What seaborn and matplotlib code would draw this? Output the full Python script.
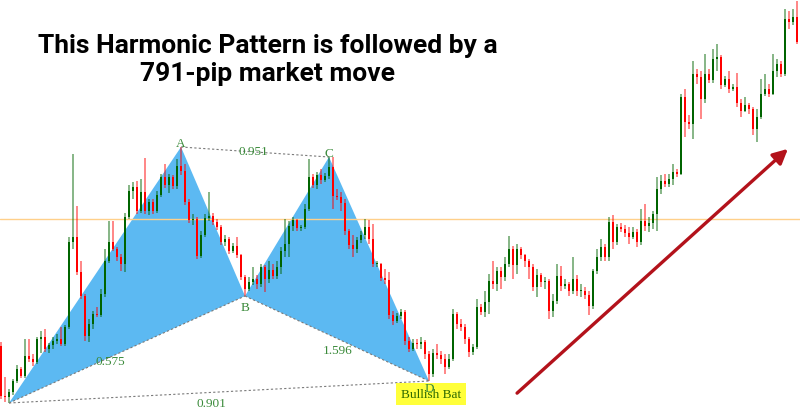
"""Bullish Bat harmonic pattern on a candlestick chart, followed by the breakout move."""

import numpy as np
import pandas as pd
import seaborn as sns
import matplotlib.pyplot as plt

# candle data (price in points, one candle per bar, open = previous close)
first_open = 67
close = [17, 16, 21, 32, 44, 37, 57, 54, 51, 74, 76, 64, 68, 72, 74, 69, 86, 171, 176, 141,
         117, 77, 89, 99, 98, 119, 152, 171, 164, 156, 149, 196, 222, 226, 202, 221, 202, 211, 202, 218,
         236, 228, 236, 227, 247, 242, 211, 193, 194, 157, 178, 195, 197, 191, 186, 171, 174, 162, 167, 158,
         136, 124, 131, 134, 129, 146, 134, 143, 137, 146, 162, 169, 187, 193, 185, 186, 204, 236, 228, 238,
         233, 237, 246, 217, 216, 210, 182, 168, 164, 173, 178, 186, 174, 149, 149, 135, 133, 98, 92, 97,
         101, 72, 64, 70, 69, 71, 59, 39, 60, 58, 54, 46, 54, 99, 89, 86, 74, 61, 66, 106,
         101, 111, 132, 129, 142, 136, 149, 164, 148, 164, 158, 152, 146, 126, 138, 131, 132, 102, 112, 137,
         127, 129, 122, 134, 122, 122, 118, 107, 142, 156, 166, 156, 191, 171, 186, 184, 180, 176, 181, 171,
         192, 187, 190, 199, 224, 232, 229, 234, 241, 239, 316, 291, 289, 339, 336, 314, 339, 333, 354, 356,
         328, 334, 324, 326, 310, 302, 308, 304, 284, 296, 319, 324, 319, 342, 349, 339, 394, 391, 396, 371]
high = [71, 36, 24, 34, 48, 46, 74, 74, 59, 76, 82, 84, 70, 76, 79, 86, 88, 176, 259, 207,
        152, 119, 94, 102, 106, 124, 164, 192, 192, 166, 159, 200, 228, 231, 232, 234, 255, 214, 214, 222,
        239, 249, 239, 238, 254, 266, 249, 214, 199, 196, 182, 199, 221, 200, 194, 188, 178, 176, 170, 176,
        159, 138, 136, 146, 138, 149, 148, 152, 149, 152, 166, 194, 192, 196, 194, 188, 209, 254, 239, 241,
        244, 240, 256, 256, 224, 221, 214, 184, 178, 176, 182, 194, 193, 189, 152, 150, 144, 141, 102, 100,
        104, 103, 76, 74, 74, 76, 73, 62, 64, 69, 62, 59, 59, 104, 101, 94, 89, 76, 69, 114,
        109, 122, 139, 152, 146, 146, 156, 177, 167, 169, 166, 159, 154, 149, 144, 140, 136, 134, 119, 149,
        147, 134, 131, 156, 138, 129, 126, 122, 144, 164, 174, 169, 196, 198, 189, 190, 188, 186, 186, 184,
        204, 209, 196, 202, 236, 238, 239, 239, 249, 244, 319, 324, 298, 352, 344, 342, 359, 344, 364, 369,
        358, 337, 342, 329, 340, 314, 316, 310, 306, 304, 334, 339, 329, 359, 354, 352, 404, 402, 404, 412]
low = [14, 11, 10, 18, 30, 35, 35, 51, 47, 49, 60, 61, 60, 64, 69, 67, 67, 84, 164, 138,
       114, 72, 71, 84, 96, 96, 116, 150, 162, 152, 142, 141, 194, 214, 199, 200, 199, 198, 199, 200,
       216, 225, 220, 224, 224, 238, 208, 190, 188, 154, 155, 176, 192, 188, 183, 168, 167, 159, 160, 155,
       133, 117, 122, 128, 124, 126, 121, 130, 134, 134, 139, 156, 156, 182, 182, 182, 184, 202, 225, 224,
       229, 231, 234, 204, 213, 202, 178, 164, 156, 160, 170, 174, 169, 146, 146, 132, 129, 94, 88, 90,
       94, 68, 61, 62, 64, 64, 54, 32, 36, 54, 49, 39, 44, 52, 84, 82, 69, 56, 58, 64,
       98, 96, 99, 124, 122, 124, 132, 146, 134, 139, 154, 146, 134, 122, 116, 126, 124, 94, 96, 109,
       122, 124, 117, 119, 117, 116, 114, 98, 104, 139, 152, 152, 152, 164, 168, 181, 176, 169, 174, 166,
       168, 182, 181, 184, 182, 219, 226, 226, 228, 236, 238, 276, 284, 274, 329, 294, 310, 330, 330, 342,
       324, 326, 320, 322, 306, 296, 301, 299, 278, 271, 294, 317, 316, 318, 336, 336, 337, 384, 388, 369]

# harmonic pattern pivots (candle index, which extreme)
pivot_names = ["X", "A", "B", "C", "D"]
pivot_index = [2, 45, 61, 82, 107]
pivot_side = ["low", "high", "low", "high", "low"]
ratio_legs = [("A", "C", "0.951"), ("X", "B", "0.575"), ("B", "D", "1.596"), ("X", "D", "0.901")]
pattern_name = "Bullish Bat"
level_price = 194
move_from = (128.5, 18)
move_to = (197.25, 266)
title = "This Harmonic Pattern is followed by a\n791-pip market move"

UP, DOWN = "#006400", "#ff0000"
FILL = "#5cb9f2"
TXT = "#3a8a3a"

sns.set_theme(style="white")
plt.rcParams["font.family"] = ["Liberation Serif", "DejaVu Serif"]

dfrm = pd.DataFrame({"close": close, "high": high, "low": low})
dfrm["open"] = dfrm["close"].shift(1).fillna(first_open)
dfrm["up"] = dfrm["close"] >= dfrm["open"]

fig = plt.figure(figsize=(8, 4.14), dpi=100)
ax = fig.add_axes([0, 0, 1, 1])
ax.set_xlim(-0.25, len(dfrm) - 0.25)
ax.set_ylim(0, 414)
ax.set_axis_off()

piv = {}
for name, idx, side in zip(pivot_names, pivot_index, pivot_side):
    piv[name] = (idx, dfrm.loc[idx, side])

# pattern triangles
for tri in (("X", "A", "B"), ("B", "C", "D")):
    ax.fill([piv[p][0] for p in tri], [piv[p][1] for p in tri], color=FILL, lw=0, zorder=1)

ax.axhline(level_price, color="#ffd08a", lw=1, zorder=2)

# candles
for i, row in dfrm.iterrows():
    col = UP if row["up"] else DOWN
    ax.vlines(i, row["low"], row["high"], color=col, lw=1.1, alpha=0.6, zorder=3)
    bot = min(row["open"], row["close"])
    hgt = max(abs(row["close"] - row["open"]), 1.5)
    ax.bar(i, hgt, bottom=bot, width=0.72, color=col, lw=0, zorder=4)

# dashed legs and ratios
offsets = {"0.951": (-2, 1), "0.575": (-17, -12), "1.596": (1, -12), "0.901": (-8, -11)}
for p1, p2, txt in ratio_legs:
    xs = [piv[p1][0], piv[p2][0]]
    ys = [piv[p1][1], piv[p2][1]]
    ax.plot(xs, ys, ls=(0, (2, 2)), color="#7a7a7a", lw=0.8, zorder=5)
    ax.annotate(txt, (np.mean(xs), np.mean(ys)), xytext=offsets[txt], textcoords="offset pixels",
                ha="center", va="center", fontsize=9.5, color=TXT, zorder=6)

letter_off = {"A": 4, "B": -11, "C": 4, "D": -7}
for name in ["A", "B", "C", "D"]:
    ax.annotate(name, piv[name], xytext=(0, letter_off[name]), textcoords="offset pixels",
                ha="center", va="center", fontsize=9.5, color=TXT, zorder=8)

ax.annotate(pattern_name, piv["D"], xytext=(2, -13), textcoords="offset pixels",
            ha="center", va="center", fontsize=9.5, color="#2f6b00", zorder=7,
            bbox=dict(boxstyle="square,pad=0.35", fc="#ffff3a", ec="none"))

ax.annotate("", xy=move_to, xytext=move_from, zorder=6,
            arrowprops=dict(arrowstyle="-|>", color="#b3121b", lw=2.4, mutation_scale=22))

fig.text(0.335, 0.855, title, ha="center", va="center", fontsize=19, fontweight="bold",
         linespacing=1.25, family=["Roboto", "DejaVu Sans"], color="black")

plt.savefig("out.png", dpi=100)
